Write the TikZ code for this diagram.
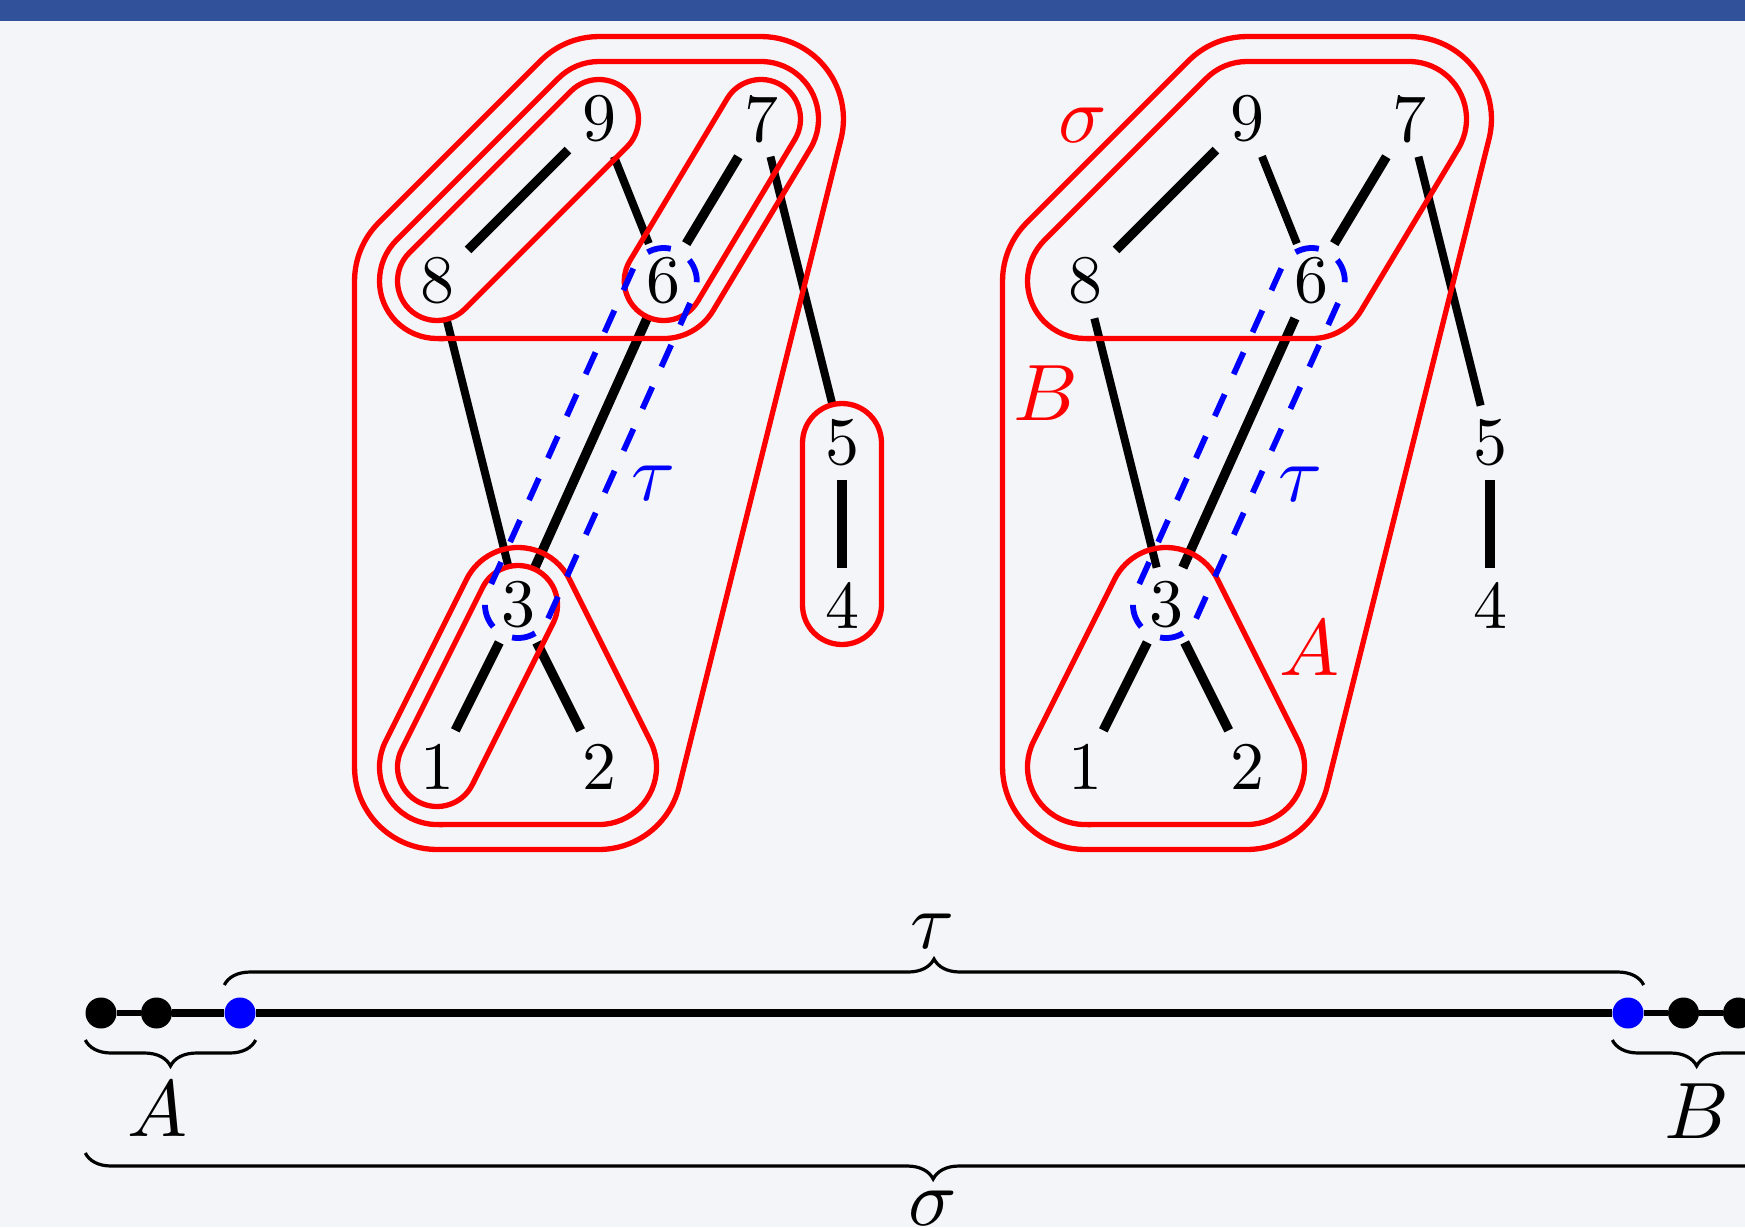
\documentclass[tikz,border=0pt]{standalone}
\usetikzlibrary{calc,decorations.pathreplacing}
\definecolor{bgc}{RGB}{244,245,249}
\definecolor{barc}{RGB}{49,82,154}

% capsule around two points: #1,#2 coordinates, #3 direction angle, #4 radius
\newcommand\capsulepath[4]{($(#1)+(#3-90:#4)$) -- ($(#2)+(#3-90:#4)$) arc[start angle=#3-90, end angle=#3+90, radius=#4] -- ($(#1)+(#3+90:#4)$) arc[start angle=#3+90, end angle=#3+270, radius=#4] -- cycle}
% hull around 8,6,7,9
\newcommand\hullBpath[2]{($(#18)+(-90:#2)$) -- ($(#16)+(-90:#2)$) arc[start angle=-90, end angle=-30.964, radius=#2] -- ($(#17)+(-30.964:#2)$) arc[start angle=-30.964, end angle=90, radius=#2] -- ($(#19)+(90:#2)$) arc[start angle=90, end angle=135, radius=#2] -- ($(#18)+(135:#2)$) arc[start angle=135, end angle=270, radius=#2] -- cycle}
% hull around 1,2,3
\newcommand\hullTpath[2]{($(#11)+(-90:#2)$) -- ($(#12)+(-90:#2)$) arc[start angle=-90, end angle=26.565, radius=#2] -- ($(#13)+(26.565:#2)$) arc[start angle=26.565, end angle=153.435, radius=#2] -- ($(#11)+(153.435:#2)$) arc[start angle=153.435, end angle=270, radius=#2] -- cycle}
% outer hull around 1,2,7,9,8
\newcommand\hullOpath[2]{($(#11)+(-90:#2)$) -- ($(#12)+(-90:#2)$) arc[start angle=-90, end angle=-14.036, radius=#2] -- ($(#17)+(-14.036:#2)$) arc[start angle=-14.036, end angle=90, radius=#2] -- ($(#19)+(90:#2)$) arc[start angle=90, end angle=135, radius=#2] -- ($(#18)+(135:#2)$) arc[start angle=135, end angle=180, radius=#2] -- ($(#11)+(180:#2)$) arc[start angle=180, end angle=270, radius=#2] -- cycle}

\tikzset{
  vtx/.style={scale=6.8, inner sep=2.06pt, outer sep=0pt},
  lbl/.style={scale=8, inner sep=0pt},
  gedge/.style={line width=8pt},
  tedge/.style={line width=9.5pt},
  hull/.style={draw=red, line width=5.3pt},
  tauhull/.style={draw=blue, line width=5.8pt, dash pattern=on 24pt off 22pt},
  bdot/.style={circle, fill=black, inner sep=0pt, minimum size=31pt},
  udot/.style={bdot, fill=blue},
  brc/.style={decorate, decoration={brace, amplitude=26pt}, line width=3.2pt},
  brcm/.style={decorate, decoration={brace, mirror, amplitude=26pt}, line width=3.2pt},
}

\newcommand\graphbody[1]{%
  \coordinate (#11) at (0,0);
  \coordinate (#12) at (1,0);
  \coordinate (#13) at (0.5,1);
  \coordinate (#14) at (2.5,1);
  \coordinate (#15) at (2.5,2);
  \coordinate (#16) at (1.4,3);
  \coordinate (#17) at (2,4);
  \coordinate (#18) at (0,3);
  \coordinate (#19) at (1,4);
  \foreach \i in {1,...,9} \node[vtx] (n#1\i) at (#1\i) {\i};
  \draw[tedge] (n#19) -- (n#18);
  \draw[gedge] (n#19) -- (n#16);
  \draw[tedge] (n#17) -- (n#16);
  \draw[gedge] (n#17) -- (n#15);
  \draw[gedge] (n#18) -- (n#13);
  \draw[tedge] (n#16) -- (n#13);
  \draw[tedge] (n#13) -- (n#11);
  \draw[tedge] (n#13) -- (n#12);
  \draw[tedge] (n#15) -- (n#14);
}

\begin{document}
\begin{tikzpicture}[x=1pt,y=-1pt]
\useasboundingbox (0,0) rectangle (1745,1227);
\clip (0,0) rectangle (1745,1227);
\fill[bgc] (0,0) rectangle (1745,1227);
\fill[barc] (0,0) rectangle (1745,20.5);

% left graph
\begin{scope}[shift={(437,767)}, x=162pt, y=162pt]
  \graphbody{a}
  \draw[hull] \capsulepath{a8}{a9}{45}{0.2438};
  \draw[hull] \capsulepath{a6}{a7}{59.036}{0.2438};
  \draw[hull] \capsulepath{a1}{a3}{63.435}{0.2438};
  \draw[hull] \capsulepath{a4}{a5}{90}{0.2438};
  \draw[hull] \hullBpath{a}{0.355};
  \draw[hull] \hullTpath{a}{0.355};
  \draw[hull] \hullOpath{a}{0.509};
  \draw[tauhull] \capsulepath{a3}{a6}{65.772}{0.2037};
\end{scope}

% right graph
\begin{scope}[shift={(1085,767)}, x=162pt, y=162pt]
  \graphbody{b}
  \draw[hull] \hullBpath{b}{0.355};
  \draw[hull] \hullTpath{b}{0.355};
  \draw[hull] \hullOpath{b}{0.509};
  \draw[tauhull] \capsulepath{b3}{b6}{65.772}{0.2037};
\end{scope}

% labels in the graphs
\node[lbl, text=blue] (tauL) at (654,483) {$\tau$};
\node[lbl, text=blue] (tauR) at (1300,484) {$\tau$};
\node[lbl, text=red] (sigR) at (1083,125) {$\sigma$};
\node[lbl, text=red] (BR) at (1046,393) {$B$};
\node[lbl, text=red] (AR) at (1309,648) {$A$};

% bottom line
\node[bdot] (d1) at (101,1013) {};
\node[bdot] (d2) at (156.5,1013) {};
\node[udot] (u1) at (240,1013) {};
\node[udot] (u2) at (1628,1013) {};
\node[bdot] (d3) at (1683.5,1013) {};
\node[bdot] (d4) at (1738.5,1013) {};
\coordinate (rend) at (1781,1013);
\coordinate (lineend) at (1800,1013);
\draw[line width=6pt] (d1) -- (d2);
\draw[line width=8pt] (d2) -- (u1);
\draw[line width=8pt] (u1) -- (u2);
\draw[line width=6pt] (u2) -- (d3);
\draw[line width=6pt] (d3) -- (d4);
\draw[line width=6pt] (d4) -- (lineend);

\draw[brc] ([yshift=28pt]u1.west) -- ([yshift=28pt]u2.east);
\draw[brcm] ([yshift=-27pt]d1.west) -- ([yshift=-27pt]u1.east);
\draw[brcm] ([yshift=-27pt]u2.west) -- ([yshift=-27pt]rend);
\draw[brcm] ([yshift=-140pt]d1.west) -- ([yshift=-140pt]rend);

\node[lbl] (tauB) at (933,931) {$\tau$};
\node[lbl] (sigB) at (933,1208) {$\sigma$};
\node[lbl] (AB) at (157,1109) {$A$};
\node[lbl] (BB) at (1697,1111) {$B$};
\end{tikzpicture}
\end{document}
